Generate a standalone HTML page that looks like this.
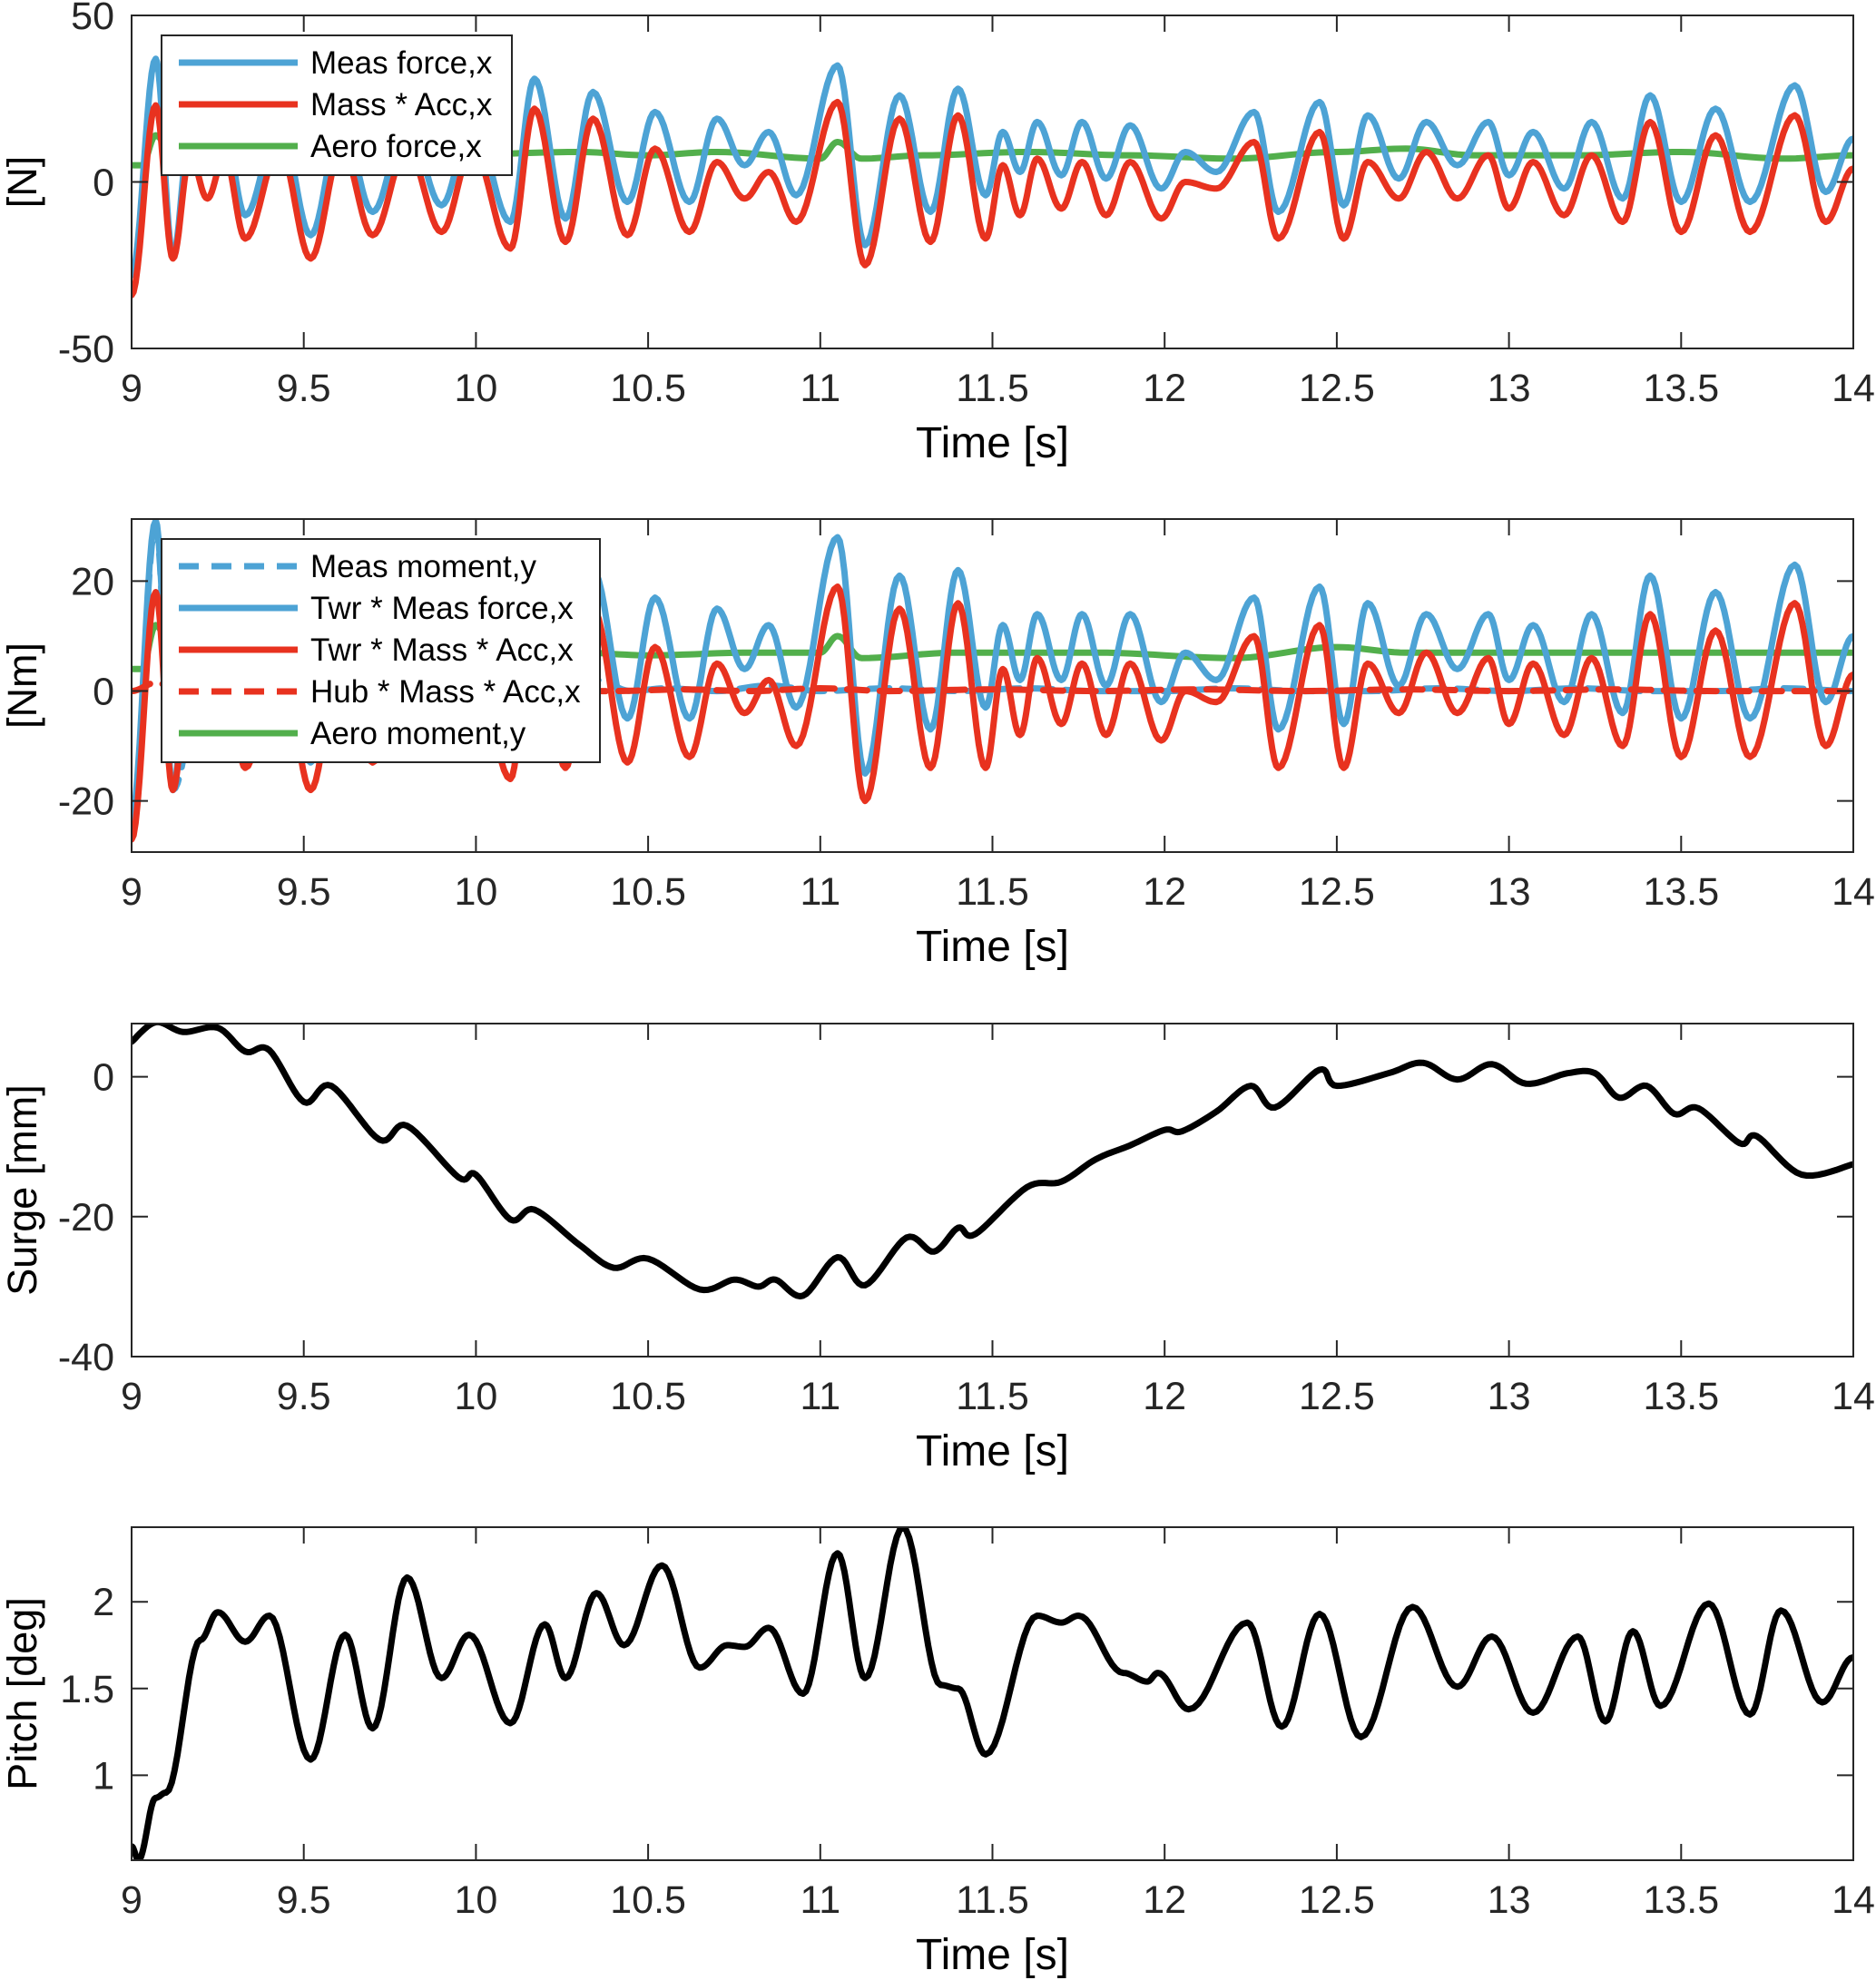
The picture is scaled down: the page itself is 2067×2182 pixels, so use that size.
<!DOCTYPE html>
<html><head><meta charset="utf-8"><style>
html,body{margin:0;padding:0;background:#fff;}
svg{display:block;font-family:"Liberation Sans",Arial,sans-serif;}
</style></head><body>
<svg id="fig" width="2067" height="2182" viewBox="0 0 2067 2182" xmlns="http://www.w3.org/2000/svg"></svg>
<script>
// ---- data ----
const xTicks = [9, 9.5, 10, 10.5, 11, 11.5, 12, 12.5, 13, 13.5, 14];
const xTickLabels = ["9","9.5","10","10.5","11","11.5","12","12.5","13","13.5","14"];
const p1YTicks = [-50, 0, 50];
const p2YTicks = [-20, 0, 20];
const p3YTicks = [-40, -20, 0];
const p4YTicks = [1, 1.5, 2];
const p4YTickLabels = ["1","1.5","2"];

const p1MeasForce = [[9.00,-28],[9.07,37],[9.12,-22],[9.17,15],[9.22,5],[9.27,15],[9.33,-10],[9.43,18],[9.52,-16],[9.61,18],[9.70,-9],[9.80,18],[9.90,-7],[9.99,18],[10.10,-12],[10.17,31],[10.26,-11],[10.34,27],[10.44,-6],[10.52,21],[10.62,-6],[10.70,19],[10.78,5],[10.85,15],[10.93,-4],[11.05,35],[11.13,-19],[11.23,26],[11.32,-9],[11.40,28],[11.48,-4],[11.53,15],[11.58,3],[11.63,18],[11.70,2],[11.76,18],[11.83,1],[11.90,17],[11.99,-2],[12.06,9],[12.15,3],[12.26,21],[12.33,-9],[12.45,24],[12.52,-7],[12.59,20],[12.68,1],[12.76,18],[12.85,5],[12.94,18],[13.00,2],[13.07,15],[13.16,-2],[13.24,18],[13.33,-5],[13.41,26],[13.50,-6],[13.60,22],[13.70,-6],[13.83,29],[13.92,-3],[14.00,13]];
const p1MassAcc = [[9.00,-34],[9.07,23],[9.12,-23],[9.17,8],[9.22,-5],[9.27,8],[9.33,-17],[9.43,10],[9.52,-23],[9.61,10],[9.70,-16],[9.80,10],[9.90,-15],[9.99,10],[10.10,-20],[10.17,22],[10.26,-18],[10.34,19],[10.44,-16],[10.52,10],[10.62,-15],[10.70,6],[10.78,-5],[10.85,3],[10.93,-12],[11.05,24],[11.13,-25],[11.23,19],[11.32,-18],[11.40,20],[11.48,-17],[11.53,5],[11.58,-10],[11.63,7],[11.70,-8],[11.76,6],[11.83,-10],[11.90,6],[11.99,-11],[12.06,0],[12.15,-2],[12.26,12],[12.33,-17],[12.45,15],[12.52,-17],[12.59,6],[12.68,-5],[12.76,9],[12.85,-5],[12.94,8],[13.00,-8],[13.07,6],[13.16,-10],[13.24,8],[13.33,-12],[13.41,18],[13.50,-15],[13.60,14],[13.70,-15],[13.83,20],[13.92,-12],[14.00,4]];
const p1Aero = [[9.00,5],[9.03,5],[9.07,14],[9.12,8],[9.3,8],[9.6,9],[9.9,8],[10.3,9],[10.5,8],[10.7,9],[11.0,7],[11.05,12],[11.12,7],[11.3,8],[11.6,9],[11.9,8],[12.2,7],[12.5,9],[12.7,10],[12.9,8],[13.2,8],[13.5,9],[13.8,7],[14.0,8]];

const p2MeasMoment = [[9.00,-24],[9.07,30],[9.12,-18],[9.2,0],[10.35,2],[10.45,0],[10.55,0.5],[10.7,0],[10.85,1],[11.0,0],[11.2,0.5],[11.4,0],[11.6,0.5],[11.8,0],[12.0,0],[12.2,0.5],[12.4,0],[12.6,0],[12.8,0.5],[13.0,0],[13.2,0.5],[13.4,0],[13.6,0],[13.8,0.5],[14.0,0]];
const p2TwrMeasForce = [[9.00,-23],[9.07,31],[9.12,-18],[9.17,12],[9.22,4],[9.27,12],[9.33,-8],[9.43,14],[9.52,-13],[9.61,14],[9.70,-7],[9.80,14],[9.90,-6],[9.99,14],[10.10,-10],[10.17,25],[10.26,-9],[10.34,22],[10.44,-5],[10.52,17],[10.62,-5],[10.70,15],[10.78,4],[10.85,12],[10.93,-3],[11.05,28],[11.13,-15],[11.23,21],[11.32,-7],[11.40,22],[11.48,-3],[11.53,12],[11.58,2],[11.63,14],[11.70,2],[11.76,14],[11.83,1],[11.90,14],[11.99,-2],[12.06,7],[12.15,2],[12.26,17],[12.33,-7],[12.45,19],[12.52,-6],[12.59,16],[12.68,1],[12.76,14],[12.85,4],[12.94,14],[13.00,2],[13.07,12],[13.16,-2],[13.24,14],[13.33,-4],[13.41,21],[13.50,-5],[13.60,18],[13.70,-5],[13.83,23],[13.92,-2],[14.00,10]];
const p2TwrMassAcc = [[9.00,-27],[9.07,18],[9.12,-18],[9.17,6],[9.22,-4],[9.27,6],[9.33,-14],[9.43,8],[9.52,-18],[9.61,8],[9.70,-13],[9.80,8],[9.90,-12],[9.99,8],[10.10,-16],[10.17,18],[10.26,-14],[10.34,15],[10.44,-13],[10.52,8],[10.62,-12],[10.70,5],[10.78,-4],[10.85,2],[10.93,-10],[11.05,19],[11.13,-20],[11.23,15],[11.32,-14],[11.40,16],[11.48,-14],[11.53,4],[11.58,-8],[11.63,6],[11.70,-6],[11.76,5],[11.83,-8],[11.90,5],[11.99,-9],[12.06,0],[12.15,-2],[12.26,10],[12.33,-14],[12.45,12],[12.52,-14],[12.59,5],[12.68,-4],[12.76,7],[12.85,-4],[12.94,6],[13.00,-6],[13.07,5],[13.16,-8],[13.24,6],[13.33,-10],[13.41,14],[13.50,-12],[13.60,11],[13.70,-12],[13.83,16],[13.92,-10],[14.00,3]];
const p2HubMassAcc = [[9.00,0],[9.07,1.5],[9.15,0],[9.5,0],[10.0,0],[10.4,0],[10.6,0.3],[10.8,0],[11.0,0.5],[11.2,0],[11.5,0.3],[11.8,0],[12.1,0.3],[12.4,0],[12.7,0.3],[13.0,0],[13.3,0.3],[13.6,0],[14.0,0]];
const p2AeroMoment = [[9.00,4],[9.03,4],[9.07,12],[9.12,7],[10.3,7],[10.5,6.5],[10.8,7],[11.0,7],[11.05,10],[11.12,6],[11.4,7],[11.8,7],[12.2,6],[12.5,8],[12.7,7],[13.0,7],[13.4,7],[13.7,7],[14.0,7]];

const p3Surge = [[9.0,5],[9.07,7.8],[9.15,6.4],[9.25,7],[9.33,3.6],[9.40,3.8],[9.5,-3.6],[9.58,-1.3],[9.72,-9],[9.80,-7],[9.95,-14.4],[10.0,-14],[10.1,-20.4],[10.17,-19],[10.3,-24],[10.4,-27.3],[10.5,-26],[10.65,-30.4],[10.75,-29],[10.82,-30],[10.87,-29],[10.95,-31.3],[11.05,-25.8],[11.13,-29.8],[11.25,-23],[11.33,-25],[11.4,-21.6],[11.45,-22.5],[11.6,-15.8],[11.7,-15],[11.8,-11.8],[11.9,-9.8],[12.0,-7.6],[12.05,-7.8],[12.15,-5],[12.25,-1.3],[12.32,-4.4],[12.45,1],[12.5,-1.3],[12.65,0.5],[12.75,2],[12.85,-0.4],[12.95,1.8],[13.05,-1],[13.17,0.5],[13.25,0.5],[13.32,-3],[13.4,-1.3],[13.48,-5.3],[13.55,-4.5],[13.67,-9.5],[13.72,-8.5],[13.85,-14],[14.0,-12.5]];
const p4Pitch = [[9.0,0.59],[9.02,0.51],[9.07,0.87],[9.1,0.9],[9.2,1.78],[9.25,1.94],[9.33,1.77],[9.40,1.92],[9.52,1.09],[9.62,1.81],[9.70,1.27],[9.80,2.14],[9.90,1.56],[9.98,1.81],[10.1,1.3],[10.2,1.87],[10.26,1.56],[10.35,2.05],[10.43,1.75],[10.54,2.21],[10.65,1.62],[10.73,1.75],[10.78,1.74],[10.85,1.85],[10.95,1.47],[11.05,2.28],[11.13,1.56],[11.24,2.43],[11.35,1.52],[11.40,1.5],[11.48,1.12],[11.63,1.92],[11.70,1.88],[11.75,1.92],[11.88,1.59],[11.95,1.54],[11.98,1.59],[12.07,1.38],[12.24,1.88],[12.34,1.28],[12.45,1.93],[12.57,1.22],[12.72,1.97],[12.85,1.51],[12.95,1.8],[13.07,1.36],[13.2,1.8],[13.28,1.31],[13.36,1.83],[13.44,1.4],[13.58,1.99],[13.7,1.35],[13.79,1.95],[13.91,1.42],[14.0,1.68]];

// ---- drawing ----
const NS = "http://www.w3.org/2000/svg";
const svg = document.getElementById('fig');
const X0 = 145, X1 = 2042, TMIN = 9, TMAX = 14;
const INK = "#262626";
const BLUE = "#4DA3D5", RED = "#E8321F", GREEN = "#52AF4C";
function mk(tag, attrs, parent) {
  const e = document.createElementNS(NS, tag);
  for (const k in attrs) e.setAttribute(k, attrs[k]);
  (parent || svg).appendChild(e);
  return e;
}
function xs(t) { return X0 + (t - TMIN) / (TMAX - TMIN) * (X1 - X0); }

function cosPath(pts, sx, sy) {
  let d = "M" + sx(pts[0][0]).toFixed(1) + "," + sy(pts[0][1]).toFixed(1);
  for (let i = 1; i < pts.length; i++) {
    const a = pts[i-1], b = pts[i];
    for (let k = 1; k <= 12; k++) {
      const u = k / 12, f = (1 - Math.cos(Math.PI * u)) / 2;
      d += " L" + sx(a[0] + (b[0]-a[0])*u).toFixed(1) + "," + sy(a[1] + (b[1]-a[1])*f).toFixed(1);
    }
  }
  return d;
}
function crPath(pts, sx, sy) {
  let d = "M" + sx(pts[0][0]).toFixed(1) + "," + sy(pts[0][1]).toFixed(1);
  for (let i = 0; i < pts.length - 1; i++) {
    const p0 = pts[Math.max(0,i-1)], p1 = pts[i], p2 = pts[i+1], p3 = pts[Math.min(pts.length-1,i+2)];
    for (let k = 1; k <= 10; k++) {
      const u = k/10, u2=u*u, u3=u2*u;
      const c = (a,b,c2,e) => 0.5*((2*b)+(-a+c2)*u+(2*a-5*b+4*c2-e)*u2+(-a+3*b-3*c2+e)*u3);
      d += " L" + sx(c(p0[0],p1[0],p2[0],p3[0])).toFixed(1) + "," + sy(c(p0[1],p1[1],p2[1],p3[1])).toFixed(1);
    }
  }
  return d;
}

function axes(id, top, bot, ymin, ymax, yticks, ylabels, ytitle) {
  const g = mk('g', {});
  
  
  const sy = v => bot - (v - ymin) / (ymax - ymin) * (bot - top);
  mk('rect', {x:X0, y:top, width:X1-X0, height:bot-top, fill:'#fff'}, g);
  const cp = mk('clipPath', {id:'clip-'+id}, g);
  mk('rect', {x:X0, y:top, width:X1-X0, height:bot-top}, cp);
  const plot = mk('g', {'clip-path':'url(#clip-'+id+')'}, g);
  
  
  const frame = mk('g', {}, g);
  xTicks.forEach((t, i) => {
    const x = xs(t);
    mk('line', {x1:x, y1:bot, x2:x, y2:bot-18, stroke:INK, 'stroke-width':2}, frame);
    mk('line', {x1:x, y1:top, x2:x, y2:top+18, stroke:INK, 'stroke-width':2}, frame);
    const tx = mk('text', {x:x, y:bot+58, 'font-size':43, 'text-anchor':'middle', fill:INK}, frame);
    tx.textContent = xTickLabels[i];
    
    
  });
  yticks.forEach((v, i) => {
    const y = sy(v);
    mk('line', {x1:X0, y1:y, x2:X0+18, y2:y, stroke:INK, 'stroke-width':2}, frame);
    mk('line', {x1:X1, y1:y, x2:X1-18, y2:y, stroke:INK, 'stroke-width':2}, frame);
    const tx = mk('text', {x:X0-19, y:y+15, 'font-size':43, 'text-anchor':'end', fill:INK}, frame);
    tx.textContent = ylabels[i];
    
    
  });
  mk('rect', {x:X0, y:top, width:X1-X0, height:bot-top, fill:'none', stroke:INK, 'stroke-width':2}, frame);
  const xt = mk('text', {x:(X0+X1)/2, y:bot+120, 'font-size':48, 'text-anchor':'middle', fill:'#000'}, frame);
  xt.textContent = 'Time [s]';
  
  
  const cy = (top+bot)/2;
  const yt = mk('text', {x:0, y:0, 'font-size':45, 'text-anchor':'middle', fill:'#000', transform:'translate(40,'+cy+') rotate(-90)'}, frame);
  yt.textContent = ytitle;
  
  
  return {plot, sy, frame, g};
}
function series(ax, pts, color, dash, name, smooth) {
  const d = smooth === 'cr' ? crPath(pts, xs, ax.sy) : cosPath(pts, xs, ax.sy);
  const p = mk('path', {d:d, fill:'none', stroke:color, 'stroke-width':7, 'stroke-linejoin':'round', 'stroke-linecap':'round'}, ax.plot);
  if (dash) p.setAttribute('stroke-dasharray', dash);
  
  
}
function legend(ax, x, y, w, entries) {
  const g = mk('g', {}, ax.g);
  
  
  const h = entries.length * 46 + 16;
  mk('rect', {x:x, y:y, width:w, height:h, fill:'#fff', stroke:INK, 'stroke-width':2}, g);
  entries.forEach((e, i) => {
    const cy = y + 30 + i * 46;
    const ln = mk('line', {x1:x+19, y1:cy, x2:x+150, y2:cy, stroke:e[1], 'stroke-width':7}, g);
    if (e[2]) ln.setAttribute('stroke-dasharray', e[2]);
    const t = mk('text', {x:x+164, y:cy+12, 'font-size':35, fill:'#000'}, g);
    t.textContent = e[0];
    
    
  });
}

const a1 = axes('force', 17, 384, -50, 50, p1YTicks, ["-50","0","50"], '[N]');
series(a1, p1Aero, GREEN, null, 'aero-force-line');
series(a1, p1MeasForce, BLUE, null, 'meas-force-line');
series(a1, p1MassAcc, RED, null, 'mass-acc-line');
legend(a1, 178, 39, 386, [["Meas force,x", BLUE], ["Mass * Acc,x", RED], ["Aero force,x", GREEN]]);

const a2 = axes('moment', 572, 939, -29.3, 31.3, p2YTicks, ["-20","0","20"], '[Nm]');
series(a2, p2AeroMoment, GREEN, null, 'aero-moment-line');
series(a2, p2TwrMeasForce, BLUE, null, 'twr-meas-force-line');
series(a2, p2MeasMoment, BLUE, '22,14', 'meas-moment-line');
series(a2, p2TwrMassAcc, RED, null, 'twr-mass-acc-line');
series(a2, p2HubMassAcc, RED, '22,14', 'hub-mass-acc-line');
legend(a2, 178, 594, 483, [["Meas moment,y", BLUE, "22,14"], ["Twr * Meas force,x", BLUE], ["Twr * Mass * Acc,x", RED], ["Hub * Mass * Acc,x", RED, "22,14"], ["Aero moment,y", GREEN]]);

const a3 = axes('surge', 1128, 1495, -40, 7.6, p3YTicks, ["-40","-20","0"], 'Surge [mm]');
series(a3, p3Surge, '#000', null, 'surge-line', 'cr');

const a4 = axes('pitch', 1683, 2050, 0.51, 2.43, p4YTicks, p4YTickLabels, 'Pitch [deg]');
series(a4, p4Pitch, '#000', null, 'pitch-line');
</script>
</body></html>
